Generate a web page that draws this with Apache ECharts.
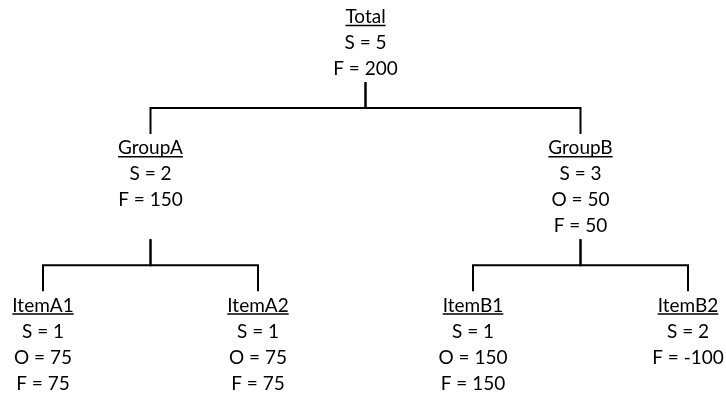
<!DOCTYPE html>
<html>
<head>
<meta charset="utf-8">
<script src="https://cdn.jsdelivr.net/npm/echarts@6/dist/echarts.min.js"></script>
<style>
  html, body { margin: 0; padding: 0; background: #fff; }
</style>
</head>
<body>
<div id="chartTree" style="width:726px; height:396px;"></div>
<script>
// tree data
const nodeNames = ['Total', 'GroupA', 'GroupB', 'ItemA1', 'ItemA2', 'ItemB1', 'ItemB2'];
const nodeParents = [-1, 0, 0, 1, 1, 2, 2];
const sValues = [5, 2, 3, 1, 1, 1, 2];
const oValues = [null, null, 50, 75, 75, 150, null];
const fValues = [200, 150, 50, 75, 75, 150, -100];

const FONT_FAMILY = 'Lato';
const FONT_SIZE = 19;
const LEVEL_GAP = 0.05;

// text lines per node
const nodeLines = nodeNames.map((name, i) => {
  const lines = [name, 'S = ' + sValues[i]];
  if (oValues[i] !== null) lines.push('O = ' + oValues[i]);
  lines.push('F = ' + fValues[i]);
  return lines;
});

// depth + children
const children = nodeNames.map(() => []);
const depth = nodeNames.map(() => 0);
nodeParents.forEach((p, i) => {
  if (p >= 0) {
    children[p].push(i);
    depth[i] = depth[p] + 1;
  }
});

// x: leaves get consecutive slots, parents sit in the middle of their children
const nodeX = [];
let leafCount = 0;
function placeX(i) {
  if (!children[i].length) {
    nodeX[i] = leafCount++;
  } else {
    children[i].forEach(placeX);
    const xs = children[i].map(c => nodeX[c]);
    nodeX[i] = (Math.min(...xs) + Math.max(...xs)) / 2;
  }
}
placeX(0);

// y in text rows: each level is as tall as its tallest node
const maxDepth = Math.max(...depth);
const levelTop = [];
const levelBottom = [];
const levelBus = [];
let row = 0;
for (let d = 0; d <= maxDepth; d++) {
  const rows = Math.max(...nodeLines.filter((l, i) => depth[i] === d).map(l => l.length));
  levelTop[d] = row + (d > 0 ? LEVEL_GAP : 0);
  levelBottom[d] = levelTop[d] + rows;
  levelBus[d] = levelBottom[d] + 1;
  row = levelBus[d] + 1;
}

const nodeData = nodeNames.map((n, i) => [nodeX[i], levelTop[depth[i]], i]);
const edgeData = [];
nodeParents.forEach((p, i) => {
  if (p >= 0) {
    edgeData.push([nodeX[p], levelBottom[depth[p]], levelBus[depth[p]], nodeX[i], levelTop[depth[i]] - LEVEL_GAP]);
  }
});

const measureCtx = document.createElement('canvas').getContext('2d');
measureCtx.font = FONT_SIZE + 'px ' + FONT_FAMILY;

function renderNode(params, api) {
  const i = api.value(2);
  const top = api.value(1);
  const x = api.coord([api.value(0), top])[0];
  const lines = nodeLines[i];
  const els = lines.map((t, k) => ({
    type: 'text',
    style: {
      text: t,
      x: x,
      y: api.coord([0, top + k + 0.5])[1],
      align: 'center',
      verticalAlign: 'middle',
      fontFamily: FONT_FAMILY,
      fontSize: FONT_SIZE,
      fill: '#000'
    }
  }));
  const w = measureCtx.measureText(lines[0]).width;
  const yu = api.coord([0, top + 0.5])[1] + 8.5;
  els.push({
    type: 'line',
    shape: { x1: x - w / 2, y1: yu, x2: x + w / 2, y2: yu },
    style: { stroke: '#000', lineWidth: 1.5 }
  });
  return { type: 'group', children: els };
}

function renderEdge(params, api) {
  const px = api.value(0), pBottom = api.value(1), bus = api.value(2);
  const cx = api.value(3), cTop = api.value(4);
  return {
    type: 'polyline',
    shape: {
      points: [
        api.coord([px, pBottom]),
        api.coord([px, bus]),
        api.coord([cx, bus]),
        api.coord([cx, cTop])
      ]
    },
    style: { stroke: '#000', lineWidth: 2, fill: null, lineJoin: 'miter' }
  };
}

const chartTree = echarts.init(document.getElementById('chartTree'));
chartTree.setOption({
  animation: false,
  grid: { left: 43, right: 38, top: 4, bottom: 2 },
  xAxis: { type: 'value', min: 0, max: leafCount - 1, show: false },
  yAxis: { type: 'value', min: 0, max: 15, inverse: true, show: false },
  series: [
    {
      type: 'custom',
      renderItem: renderEdge,
      encode: { x: 0, y: 1 },
      data: edgeData,
      silent: true
    },
    {
      type: 'custom',
      renderItem: renderNode,
      encode: { x: 0, y: 1 },
      data: nodeData,
      silent: true
    }
  ]
});
</script>
</body>
</html>
